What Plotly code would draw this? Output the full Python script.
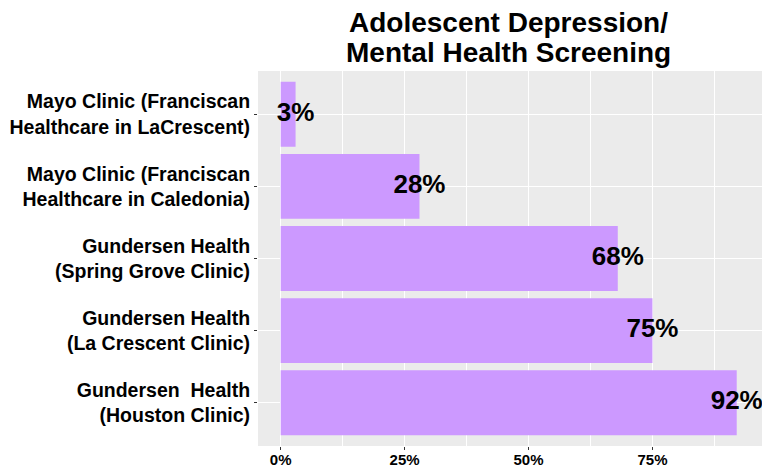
import plotly.graph_objects as go

categories = [
    "Mayo Clinic (Franciscan<br>Healthcare in LaCrescent)",
    "Mayo Clinic (Franciscan<br>Healthcare in Caledonia)",
    "Gundersen Health<br>(Spring Grove Clinic)",
    "Gundersen Health<br>(La Crescent Clinic)",
    "Gundersen\u00a0\u00a0Health<br>(Houston Clinic)",
]
values = [0.03, 0.28, 0.68, 0.75, 0.92]
labels = ["3%", "28%", "68%", "75%", "92%"]
tick_vals = [0, 0.25, 0.5, 0.75]
tick_text = ["0%", "25%", "50%", "75%"]
title_lines = ["Adolescent Depression/", "Mental Health Screening"]

FONT = "Liberation Sans, Arial, sans-serif"

fig = go.Figure()
fig.add_trace(go.Bar(
    y=categories, x=values, orientation="h",
    marker=dict(color="#CC99FF", line=dict(width=0)),
    width=0.9, hoverinfo="skip",
))
fig.add_trace(go.Scatter(
    y=categories, x=values, mode="text", text=["<b>%s</b>" % t for t in labels],
    textposition="middle center",
    textfont=dict(family=FONT, size=26, color="black"),
    hoverinfo="skip", cliponaxis=False,
))

for line, shift in zip(title_lines, [49, 18.5]):
    fig.add_annotation(
        text="<b>%s</b>" % line, xref="paper", yref="paper",
        x=0.497, y=1, xanchor="center", yanchor="middle", yshift=shift,
        showarrow=False, font=dict(family=FONT, size=28, color="black"),
    )

fig.update_layout(
    width=762, height=468,
    margin=dict(l=258, r=0, t=71, b=22, pad=0, autoexpand=False),
    paper_bgcolor="white", plot_bgcolor="#EBEBEB",
    showlegend=False,
    bargap=0.1,
    xaxis=dict(
        range=[-0.0458, 0.971], automargin=False,
        tickvals=tick_vals, ticktext=["<b>%s</b>" % t for t in tick_text],
        tickfont=dict(family=FONT, size=15, color="black"),
        ticklabelstandoff=-3,
        showgrid=True, gridcolor="white", gridwidth=1.3,
        minor=dict(dtick=0.125, tick0=0.125, showgrid=True, gridcolor="white", gridwidth=0.6),
        zeroline=False, ticks="outside", ticklen=3, tickcolor="#333333",
        showline=False, fixedrange=True,
    ),
    yaxis=dict(
        categoryorder="array", categoryarray=categories[::-1], automargin=False,
        tickvals=categories, ticktext=["<b>%s</b>" % c for c in categories],
        tickfont=dict(family=FONT, size=19.5, color="black"),
        showgrid=True, gridcolor="white", gridwidth=1.3,
        ticks="outside", ticklen=3, tickcolor="#333333",
        zeroline=False, showline=False, fixedrange=True,
        range=[-0.6, 4.6],
    ),
)

fig.write_html("out.html", config={"displayModeBar": False},
               post_script="document.body.style.margin='0';")
